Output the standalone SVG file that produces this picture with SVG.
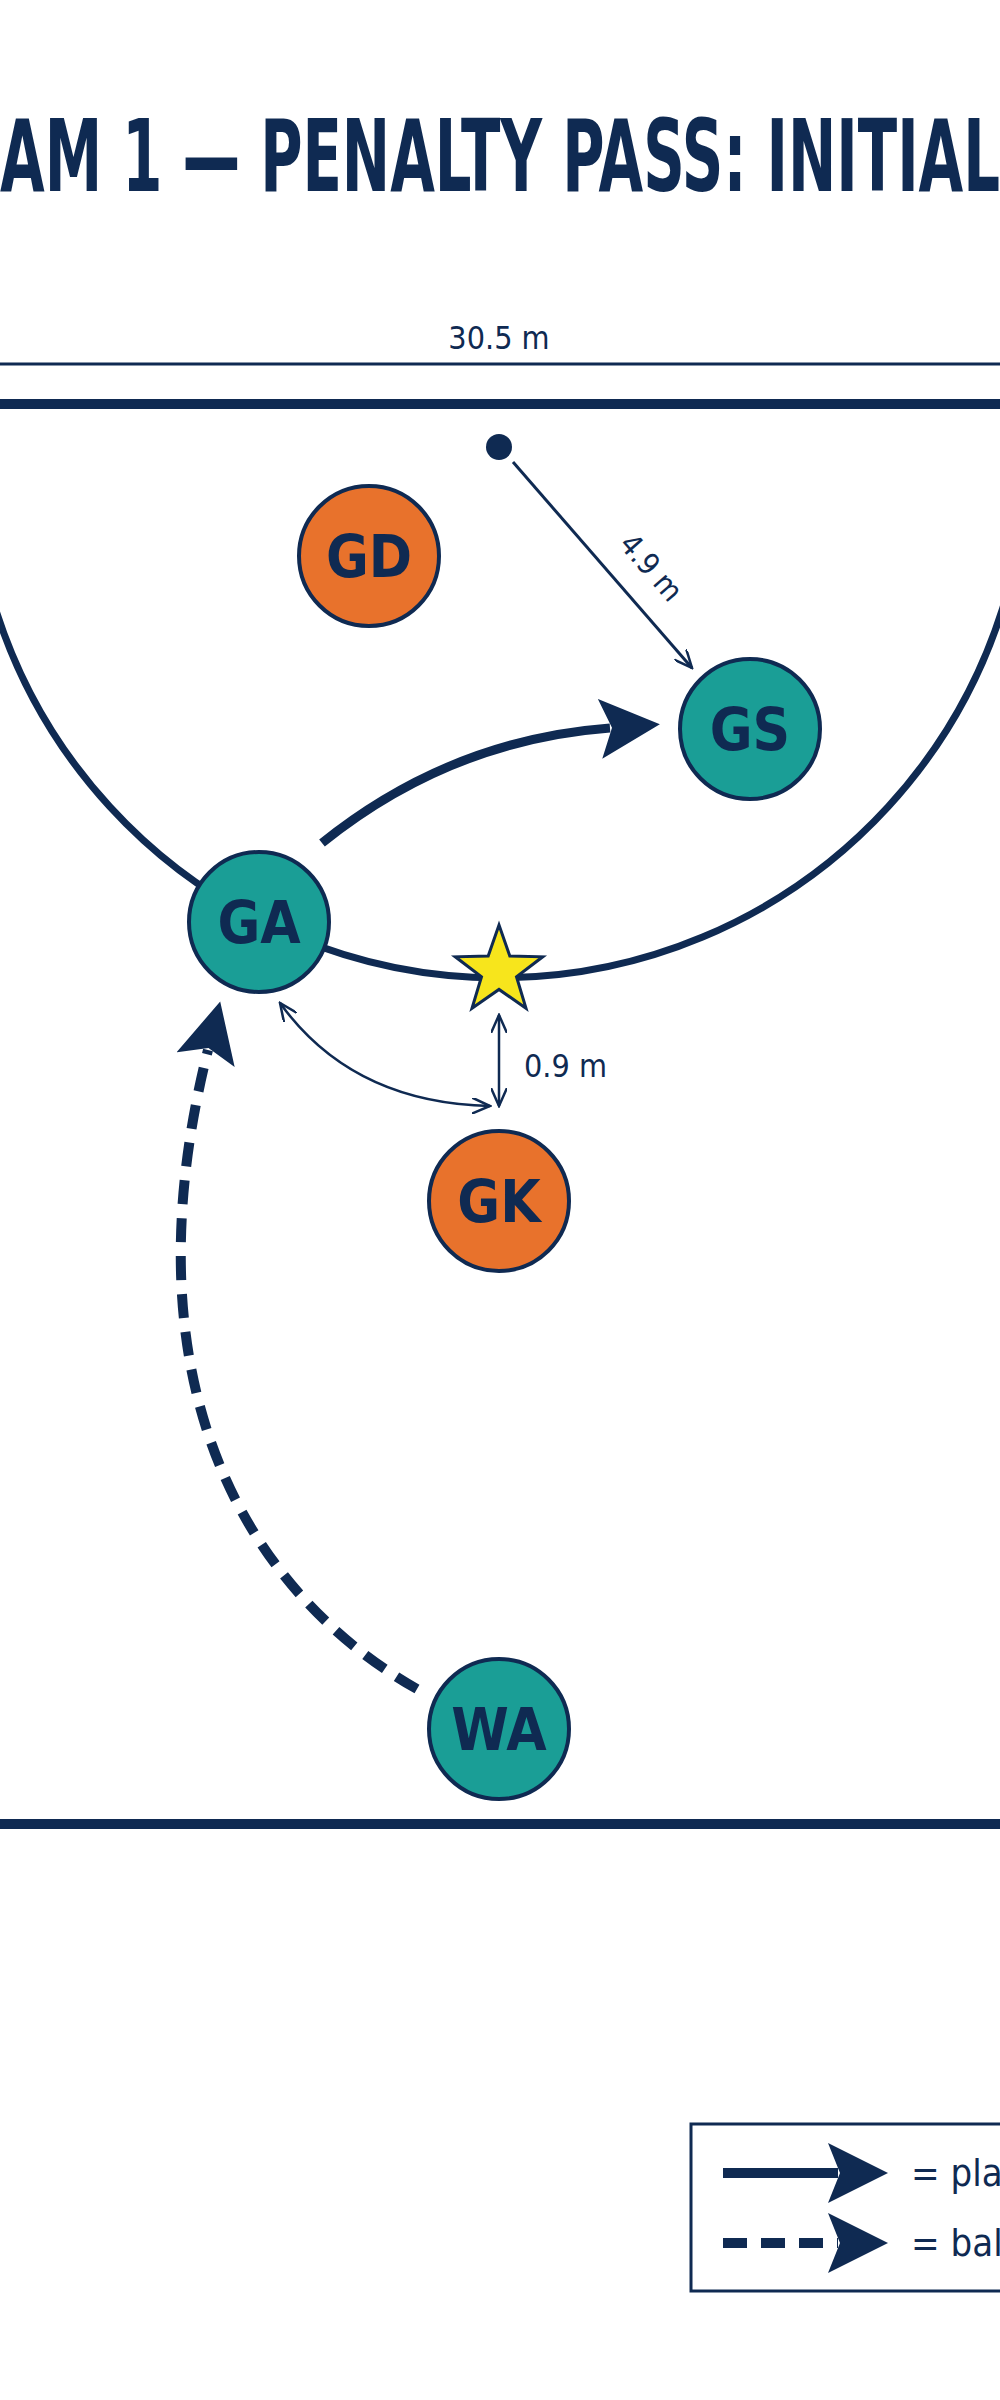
<svg xmlns="http://www.w3.org/2000/svg" width="1000" height="2400" viewBox="0 0 1000 2400">
<style>
.t{font-family:"Liberation Sans Narrow","DejaVu Sans Condensed","Liberation Sans",sans-serif;fill:#0f2a52}
.nl{font-weight:bold;font-size:58px;text-anchor:middle}
.nd circle{stroke:#0f2a52;stroke-width:4}
.or{fill:#e8722c}.te{fill:#1a9e96}
.ln{stroke:#0f2a52;fill:none}
</style>
<defs>
<marker id="big" markerUnits="userSpaceOnUse" markerWidth="70" markerHeight="60" refX="10" refY="30" orient="auto"><path d="M0 0 L60 30 L0 60 L12 30 Z" fill="#0f2a52"/></marker>
<marker id="sm" markerUnits="userSpaceOnUse" markerWidth="20" markerHeight="16" refX="18" refY="8" orient="auto-start-reverse"><path d="M0 0 L18 8 L0 16" fill="none" stroke="#0f2a52" stroke-width="2.5"/></marker>
</defs>
<rect width="1000" height="2400" fill="#ffffff"/>
<text class="t" x="0" y="191" font-size="100" font-weight="bold" textLength="1000" lengthAdjust="spacingAndGlyphs">AM 1 — PENALTY PASS: INITIAL</text>
<g id="court">
<line class="ln" x1="0" y1="364" x2="1000" y2="364" stroke-width="3"/>
<text class="t" x="499" y="349" font-size="32" text-anchor="middle">30.5 m</text>
<line class="ln" x1="0" y1="404" x2="1000" y2="404" stroke-width="10"/>
<line class="ln" x1="0" y1="1824" x2="1000" y2="1824" stroke-width="10"/>
<path class="ln" d="M -27 404 A 528 528 0 1 0 1025 404" stroke-width="7"/>
<circle cx="499" cy="447" r="13" fill="#0f2a52" stroke="none"/>
<polygon points="499,925 509.8,956.1 542.7,956.8 516.5,976.7 526,1008.2 499,989.4 472,1008.2 481.5,976.7 455.3,956.8 488.2,956.1" fill="#f7e51c" stroke="#0f2a52" stroke-width="3"/>
</g>
<g id="connectors">
<line class="ln" x1="513" y1="462" x2="692" y2="668" stroke-width="3" marker-end="url(#sm)"/>
<text class="t" font-size="30" transform="translate(618,545) rotate(49)">4.9 m</text>
<path class="ln" d="M322 843 Q 450 740 610 728" stroke-width="9" marker-end="url(#big)"/>
<path class="ln" d="M280 1003 Q 352 1103 490 1106" stroke-width="2.5" marker-start="url(#sm)" marker-end="url(#sm)"/>
<line class="ln" x1="499" y1="1015" x2="499" y2="1106" stroke-width="2.5" marker-start="url(#sm)" marker-end="url(#sm)"/>
<text class="t" x="524" y="1077" font-size="32">0.9 m</text>
<path class="ln" d="M417 1689 C 260 1600 120 1400 208 1050" stroke-width="10" stroke-dasharray="24 14" marker-end="url(#big)"/>
</g>
<g id="GD" class="nd"><circle cx="369" cy="556" r="70" class="or"/><text class="t nl" x="369" y="577">GD</text></g>
<g id="GS" class="nd"><circle cx="750" cy="729" r="70" class="te"/><text class="t nl" x="750" y="750">GS</text></g>
<g id="GA" class="nd"><circle cx="259" cy="922" r="70" class="te"/><text class="t nl" x="259" y="943">GA</text></g>
<g id="GK" class="nd"><circle cx="499" cy="1201" r="70" class="or"/><text class="t nl" x="499" y="1222">GK</text></g>
<g id="WA" class="nd"><circle cx="499" cy="1729" r="70" class="te"/><text class="t nl" x="499" y="1750">WA</text></g>
<g id="legend">
<rect x="691" y="2124" width="330" height="167" fill="none" stroke="#0f2a52" stroke-width="3"/>
<line class="ln" x1="723" y1="2173" x2="838" y2="2173" stroke-width="10" marker-end="url(#big)"/>
<line class="ln" x1="723" y1="2243" x2="838" y2="2243" stroke-width="10" stroke-dasharray="24 14" marker-end="url(#big)"/>
<text class="t" x="911" y="2186" font-size="38">= play</text>
<text class="t" x="911" y="2256" font-size="38">= ball</text>
</g>
</svg>
